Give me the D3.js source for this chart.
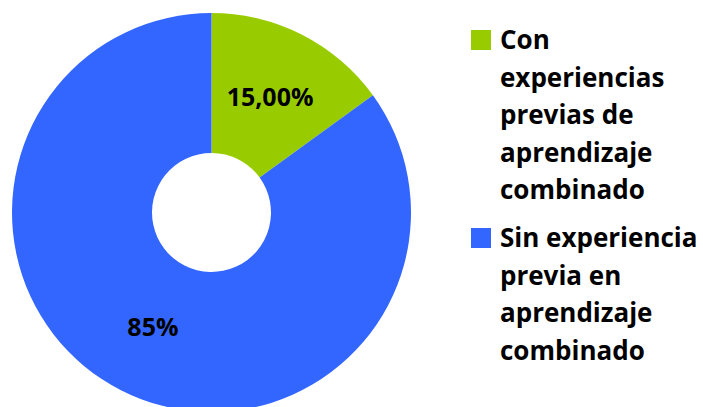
<!DOCTYPE html>
<html>
<head>
<meta charset="utf-8">
<script src="https://cdn.jsdelivr.net/npm/d3@7"></script>
<style>
  html, body { margin: 0; padding: 0; background: #fff; }
  svg { display: block; }
  text { font-family: "Open Sans", sans-serif; font-weight: bold; fill: #000; }
</style>
</head>
<body>
<svg id="chart" width="703" height="407"></svg>
<script>
// Experience with blended learning
const categories = [
  "Con experiencias previas de aprendizaje combinado",
  "Sin experiencia previa en aprendizaje combinado"
];
const values = [15, 85];
const valueLabels = ["15,00%", "85%"];
const legendLines = [
  ["Con", "experiencias", "previas de", "aprendizaje", "combinado"],
  ["Sin experiencia", "previa en", "aprendizaje", "combinado"]
];
const colors = ["#99CC00", "#3366FF"];

const svg = d3.select("#chart");
const cx = 211.5, cy = 212.5;
const outerR = 199.5, innerR = 59.5, labelR = 129;

const color = d3.scaleOrdinal().domain(categories).range(colors);

const pie = d3.pie().sort(null).value(d => d.value);
const data = categories.map((c, i) => ({ cat: c, value: values[i], label: valueLabels[i] }));
const arcs = pie(data);

const arc = d3.arc().innerRadius(innerR).outerRadius(outerR);
const labelArc = d3.arc().innerRadius(labelR).outerRadius(labelR);

const g = svg.append("g").attr("transform", `translate(${cx},${cy})`);

g.selectAll("path.slice")
  .data(arcs)
  .join("path")
  .attr("class", "slice")
  .attr("d", arc)
  .attr("fill", d => color(d.data.cat));

g.selectAll("text.value")
  .data(arcs)
  .join("text")
  .attr("class", "value")
  .attr("transform", d => {
    const [x, y] = labelArc.centroid(d);
    return `translate(${x},${y})`;
  })
  .attr("text-anchor", "middle")
  .attr("dy", "0.35em")
  .style("font-size", "25px")
  .text(d => d.data.label);

// Legend
const legendX = 471, textX = 500, lineH = 37.5;
const legendTops = [30, 228];
const firstBaselines = [49, 247];

const legend = svg.selectAll("g.legend")
  .data(categories)
  .join("g")
  .attr("class", "legend");

legend.append("rect")
  .attr("x", legendX)
  .attr("y", (d, i) => legendTops[i])
  .attr("width", 20)
  .attr("height", 20)
  .attr("fill", d => color(d));

legend.append("text")
  .style("font-size", "26px")
  .attr("x", textX)
  .attr("y", (d, i) => firstBaselines[i])
  .selectAll("tspan")
  .data((d, i) => legendLines[i].map((t, j) => ({ t, j })))
  .join("tspan")
  .attr("x", textX)
  .attr("dy", d => d.j === 0 ? 0 : lineH)
  .text(d => d.t);
</script>
</body>
</html>
